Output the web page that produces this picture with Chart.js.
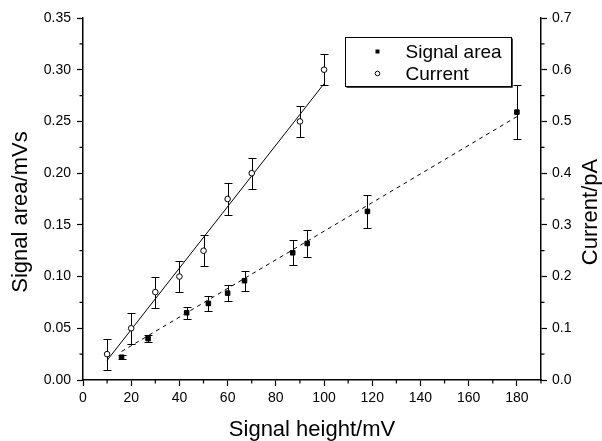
<!DOCTYPE html>
<html>

<head>
    <meta charset="utf-8">
    <title>Signal area and current vs signal height</title>
    <style>
        body {
            margin: 0;
            background-color: white;
        }

        .chart-box {
            position: relative;
            width: 602px;
            height: 441px;
        }
    </style>
</head>

<body>
    <div class="chart-box">
        <canvas id="signalChart"></canvas>
    </div>

    <script src="https://cdn.jsdelivr.net/npm/chart.js"></script>
    <script>
        // Signal area (filled squares, left axis)
        const areaHeight = [16, 27, 43, 52, 60, 67, 87, 93, 118, 180];
        const signalArea = [0.022, 0.040, 0.065, 0.074, 0.084, 0.096, 0.123, 0.132, 0.163, 0.259];
        const areaErr = [0.002, 0.0035, 0.006, 0.007, 0.008, 0.0095, 0.012, 0.013, 0.016, 0.026];

        // Current (open circles, right axis)
        const currentHeight = [10, 20, 30, 40, 50, 60, 70, 90, 100];
        const current = [0.05, 0.10, 0.17, 0.20, 0.25, 0.35, 0.40, 0.50, 0.60];
        const currentErr = [0.03, 0.03, 0.03, 0.03, 0.03, 0.03, 0.03, 0.03, 0.03];

        // Linear fits
        const areaFitX = [16, 180];
        const areaFitY = [0.0276, 0.2546];
        const currentFitX = [10, 100];
        const currentFitY = [0.038, 0.573];

        // Axis ticks
        const xTicks = [0, 20, 40, 60, 80, 100, 120, 140, 160, 180];
        const xMinor = [10, 30, 50, 70, 90, 110, 130, 150, 170, 190];
        const areaTicks = [0, 0.05, 0.10, 0.15, 0.20, 0.25, 0.30, 0.35];
        const areaMinor = [0.025, 0.075, 0.125, 0.175, 0.225, 0.275, 0.325];
        const currentTicks = [0, 0.1, 0.2, 0.3, 0.4, 0.5, 0.6, 0.7];
        const currentMinor = [0.05, 0.15, 0.25, 0.35, 0.45, 0.55, 0.65];

        const FONT = '"Liberation Sans", Arial, sans-serif';

        function toPoints(xs, ys) {
            return xs.map((x, i) => ({ x: x, y: ys[i] }));
        }

        // vertical error bars with caps, drawn under the markers
        const errorBars = {
            id: 'errorBars',
            beforeDatasetsDraw(chart) {
                const ctx = chart.ctx;
                chart.data.datasets.forEach(ds => {
                    if (!ds.errors) return;
                    const xs = chart.scales.x;
                    const ys = chart.scales[ds.yAxisID];
                    ctx.save();
                    ctx.strokeStyle = '#000';
                    ctx.lineWidth = 1;
                    ds.data.forEach((p, j) => {
                        const e = ds.errors[j];
                        const px = Math.round(xs.getPixelForValue(p.x)) + 0.5;
                        const top = Math.round(ys.getPixelForValue(p.y + e)) + 0.5;
                        const bot = Math.round(ys.getPixelForValue(p.y - e)) + 0.5;
                        ctx.beginPath();
                        ctx.moveTo(px, top);
                        ctx.lineTo(px, bot);
                        ctx.moveTo(px - 4, top);
                        ctx.lineTo(px + 4, top);
                        ctx.moveTo(px - 4, bot);
                        ctx.lineTo(px + 4, bot);
                        ctx.stroke();
                    });
                    ctx.restore();
                });
            }
        };

        // minor ticks, axis titles and the boxed legend
        const extras = {
            id: 'extras',
            afterDraw(chart) {
                const ctx = chart.ctx;
                const area = chart.chartArea;
                const xs = chart.scales.x, yl = chart.scales.y, yr = chart.scales.y1;

                ctx.save();
                ctx.strokeStyle = '#000';
                ctx.lineWidth = 1.2;
                ctx.beginPath();
                xMinor.forEach(v => {
                    const px = xs.getPixelForValue(v);
                    ctx.moveTo(px, area.bottom);
                    ctx.lineTo(px, area.bottom + 3.5);
                });
                areaMinor.forEach(v => {
                    const py = yl.getPixelForValue(v);
                    ctx.moveTo(area.left, py);
                    ctx.lineTo(area.left - 3.5, py);
                });
                currentMinor.forEach(v => {
                    const py = yr.getPixelForValue(v);
                    ctx.moveTo(area.right, py);
                    ctx.lineTo(area.right + 3.5, py);
                });
                ctx.stroke();

                // axis titles
                ctx.fillStyle = '#000';
                ctx.font = '22px ' + FONT;
                ctx.textAlign = 'center';
                ctx.textBaseline = 'alphabetic';
                ctx.fillText('Signal height/mV', (area.left + area.right) / 2, 436);

                ctx.save();
                ctx.translate(27, 212);
                ctx.rotate(-Math.PI / 2);
                ctx.fillText('Signal area/mVs', 0, 0);
                ctx.restore();

                ctx.save();
                ctx.translate(597, 212);
                ctx.rotate(-Math.PI / 2);
                ctx.fillText('Current/pA', 0, 0);
                ctx.restore();

                // legend
                const bx = area.right - 195.5, by = area.top + 19.5;
                ctx.lineWidth = 1;
                ctx.strokeStyle = '#444';
                ctx.beginPath();
                ctx.moveTo(bx + 167, by + 1);
                ctx.lineTo(bx + 167, by + 50);
                ctx.lineTo(bx + 1, by + 50);
                ctx.stroke();
                ctx.strokeStyle = '#000';
                ctx.strokeRect(bx, by, 166, 49);

                ctx.fillStyle = '#000';
                ctx.fillRect(bx + 30, by + 12, 4, 4);
                ctx.beginPath();
                ctx.arc(bx + 32, by + 36, 2.3, 0, Math.PI * 2);
                ctx.fillStyle = '#fff';
                ctx.fill();
                ctx.stroke();

                ctx.fillStyle = '#000';
                ctx.font = '19px ' + FONT;
                ctx.textAlign = 'left';
                const labels = chart.data.datasets.slice(0, 2).map(d => d.label);
                ctx.fillText(labels[0], bx + 60, by + 20);
                ctx.fillText(labels[1], bx + 60, by + 42);
                ctx.restore();
            }
        };

        const tickFont = { family: FONT, size: 14 };
        const axisGrid = {
            drawOnChartArea: false,
            drawTicks: true,
            tickLength: 6,
            tickColor: '#000',
            tickWidth: 1.2
        };
        const axisBorder = { display: true, color: '#000', width: 1.5 };

        const chart = new Chart(document.getElementById('signalChart'), {
            type: 'scatter',
            data: {
                datasets: [
                    {
                        label: 'Signal area',
                        data: toPoints(areaHeight, signalArea),
                        errors: areaErr,
                        yAxisID: 'y',
                        pointStyle: 'rect',
                        pointRadius: 3.2,
                        backgroundColor: '#000',
                        borderColor: '#000',
                        borderWidth: 1
                    },
                    {
                        label: 'Current',
                        data: toPoints(currentHeight, current),
                        errors: currentErr,
                        yAxisID: 'y1',
                        pointStyle: 'circle',
                        pointRadius: 2.8,
                        backgroundColor: '#fff',
                        borderColor: '#000',
                        borderWidth: 1
                    },
                    {
                        type: 'line',
                        label: 'Signal area fit',
                        data: toPoints(areaFitX, areaFitY),
                        yAxisID: 'y',
                        borderColor: '#000',
                        borderWidth: 1,
                        borderDash: [4, 4],
                        pointRadius: 0,
                        fill: false
                    },
                    {
                        type: 'line',
                        label: 'Current fit',
                        data: toPoints(currentFitX, currentFitY),
                        yAxisID: 'y1',
                        borderColor: '#000',
                        borderWidth: 1,
                        pointRadius: 0,
                        fill: false
                    }
                ]
            },
            options: {
                responsive: true,
                maintainAspectRatio: false,
                animation: false,
                layout: { padding: { top: 18, left: 0, right: 0, bottom: 0 } },
                plugins: {
                    legend: { display: false },
                    tooltip: { enabled: false }
                },
                scales: {
                    x: {
                        type: 'linear',
                        min: 0,
                        max: 190,
                        afterBuildTicks: s => { s.ticks = xTicks.map(v => ({ value: v })); },
                        afterFit: s => { s.height = 61; },
                        ticks: { font: tickFont, color: '#000', padding: 4, maxRotation: 0, callback: v => String(v) },
                        grid: axisGrid,
                        border: axisBorder
                    },
                    y: {
                        type: 'linear',
                        position: 'left',
                        min: 0,
                        max: 0.35,
                        afterBuildTicks: s => { s.ticks = areaTicks.map(v => ({ value: v })); },
                        afterFit: s => { s.width = 83; },
                        ticks: { font: tickFont, color: '#000', padding: 6, callback: v => v.toFixed(2) },
                        grid: axisGrid,
                        border: axisBorder
                    },
                    y1: {
                        type: 'linear',
                        position: 'right',
                        min: 0,
                        max: 0.7,
                        afterBuildTicks: s => { s.ticks = currentTicks.map(v => ({ value: v })); },
                        afterFit: s => { s.width = 61; },
                        ticks: { font: tickFont, color: '#000', padding: 5, callback: v => v.toFixed(1) },
                        grid: axisGrid,
                        border: axisBorder
                    }
                }
            },
            plugins: [errorBars, extras]
        });
    </script>
</body>

</html>
